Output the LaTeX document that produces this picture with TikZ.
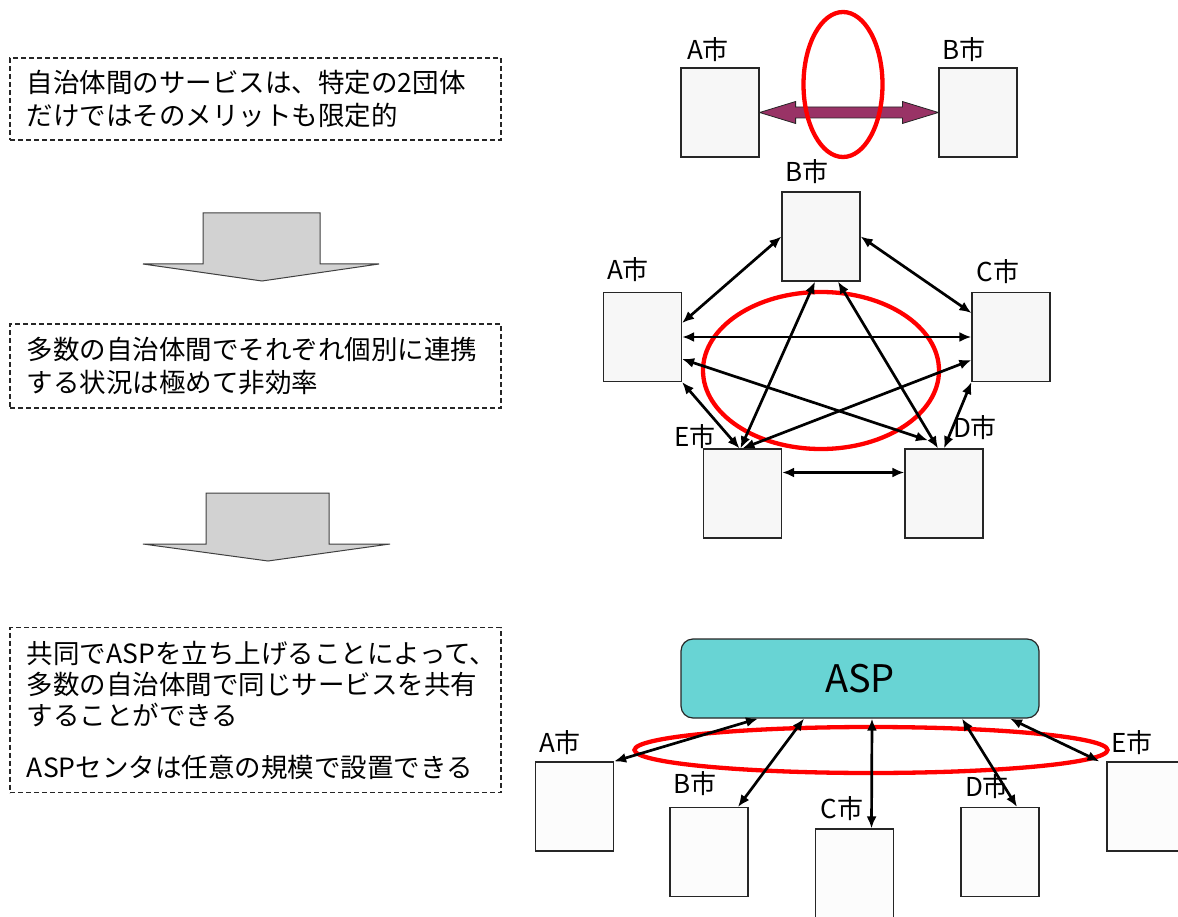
\documentclass[tikz,border=0pt]{standalone}
\usepackage{fontspec}
\setmainfont{Noto Sans CJK JP}
\usetikzlibrary{arrows.meta,calc}
\definecolor{plum}{RGB}{153,51,102}
\definecolor{aspfill}{RGB}{104,212,212}
\definecolor{boxgray}{RGB}{247,247,247}
\definecolor{arrowgray}{RGB}{210,210,210}

\begin{document}
\begin{tikzpicture}[x=1pt, y=-1pt, >={Latex[length=12pt,width=10pt]}, line width=1pt]
    \tikzstyle{note} = [draw=black!85, dash pattern=on 5pt off 3pt, line width=1.4pt, align=left, text width=457pt, inner xsep=17pt, minimum width=491pt, font=\fontsize{26.5}{33}\selectfont]
    \tikzstyle{city} = [draw=black!85, fill=boxgray, line width=1.2pt, minimum width=78pt, minimum height=89pt, inner sep=0pt]
    \tikzstyle{lbl} = [font=\fontsize{26}{28}\selectfont, inner sep=0pt]
    \tikzstyle{link} = [<->, line width=2.7pt]
    \tikzstyle{ring} = [draw=red, line width=4.3pt]
    \tikzstyle{bigarrow} = [draw=black!75, fill=arrowgray, line width=1pt]

    \useasboundingbox (0,0) rectangle (1178,917);

    % left column
    \node [note, minimum height=82pt] (n1) at (255.5,99) {自治体間のサービスは、特定の2団体\\だけではそのメリットも限定的};
    \node [note, minimum height=84pt] (n2) at (255.5,366) {多数の自治体間でそれぞれ個別に連携\\する状況は極めて非効率};
    \node [note, minimum height=165pt, font=\fontsize{26.5}{31}\selectfont] (n3) at (255.5,710) {共同でASPを立ち上げることによって、\\多数の自治体間で同じサービスを共有\\することができる\\[21pt]ASPセンタは任意の規模で設置できる};

    \draw [bigarrow] (203,213) -- (320,213) -- (320,264) -- (379,264) -- (262,281) -- (143,264) -- (203,264) -- cycle;
    \draw [bigarrow] (206,493) -- (329,493) -- (329,544) -- (390,544) -- (268,561) -- (143,544) -- (206,544) -- cycle;

    % two cities
    \node [city] (ta) at (720,112.5) {};
    \node [city] (tb) at (978,112.5) {};
    \node [lbl] (ta-l) at (708,50) {A市};
    \node [lbl] (tb-l) at (964,50) {B市};
    \draw [draw=black!85, fill=plum, line width=0.8pt] (ta.east) -- ++(36,-11) -- ++(0,5.5) -- ($(tb.west)+(-36,-5.5)$) -- ++(0,-5.5) -- (tb.west) -- ++(-36,11) -- ++(0,-5.5) -- ($(ta.east)+(36,5.5)$) -- ++(0,5.5) -- cycle;
    \draw [ring] (843,84.5) ellipse [x radius=39.5pt, y radius=72.5pt];

    % five cities, all pairs
    \node [city] (ma) at (642.5,337) {};
    \node [city] (mb) at (821,236.5) {};
    \node [city] (mc) at (1011,337) {};
    \node [city] (md) at (944,493.5) {};
    \node [city] (me) at (742.5,493.5) {};
    \node [lbl] (ma-l) at (628,270) {A市};
    \node [lbl] (mb-l) at (807,172) {B市};
    \node [lbl] (mc-l) at (998,272) {C市};
    \node [lbl] (md-l) at (975,428) {D市};
    \node [lbl] (me-l) at (695,437) {E市};
    \draw [ring] (821,370.5) ellipse [x radius=118pt, y radius=78.5pt];

    \draw [link] ($(ma.east)+(0,-14)$) -- (mb.west);
    \draw [link] (mb.east) -- ($(mc.west)+(0,-24)$);
    \draw [link] (ma.east) -- (mc.west);
    \draw [link] ($(ma.east)+(0,22)$) -- ($(md.north)+(-16,-8)$);
    \draw [link] (ma.south east) -- ($(me.north)+(-3,0)$);
    \draw [link] ($(mb.south)+(-6,0)$) -- ($(me.north)+(-2,0)$);
    \draw [link] ($(mb.south)+(17,0)$) -- ($(md.north)+(-6,0)$);
    \draw [link] ($(mc.west)+(0,23)$) -- (me.north);
    \draw [link] (mc.south west) -- (md.north);
    \draw [link] ($(me.east)+(0,-21)$) -- ($(md.west)+(0,-21)$);

    % shared ASP
    \node [draw=black!85, fill=aspfill, line width=1.2pt, rounded corners=12pt, minimum width=358pt, minimum height=79pt, font=\fontsize{38}{40}\selectfont] (asp) at (860,678.5) {ASP};
    \node [city, fill=white!60!boxgray] (ba) at (574.5,806.5) {};
    \node [city, fill=white!60!boxgray] (bb) at (709,852) {};
    \node [city, fill=white!60!boxgray] (bc) at (854.5,873.5) {};
    \node [city, fill=white!60!boxgray] (bd) at (1000,852) {};
    \node [city, fill=white!60!boxgray] (be) at (1146,806.5) {};
    \node [lbl] (ba-l) at (560,743) {A市};
    \node [lbl] (bb-l) at (695,784) {B市};
    \node [lbl] (bc-l) at (842,809) {C市};
    \node [lbl] (bd-l) at (987,787) {D市};
    \node [lbl] (be-l) at (1132,743) {E市};
    \draw [ring] (871,750) ellipse [x radius=236.5pt, y radius=23pt];

    \draw [link] ($(asp.south)+(-102,0)$) -- (ba.north east);
    \draw [link] ($(asp.south)+(-56,0)$) -- ($(bb.north)+(29,0)$);
    \draw [link] ($(asp.south)+(12,0)$) -- ($(bc.north)+(17,0)$);
    \draw [link] ($(asp.south)+(102,0)$) -- ($(bd.north)+(17,0)$);
    \draw [link] ($(asp.south)+(150,0)$) -- ($(be.north west)+(-7,0)$);
\end{tikzpicture}
\end{document}
